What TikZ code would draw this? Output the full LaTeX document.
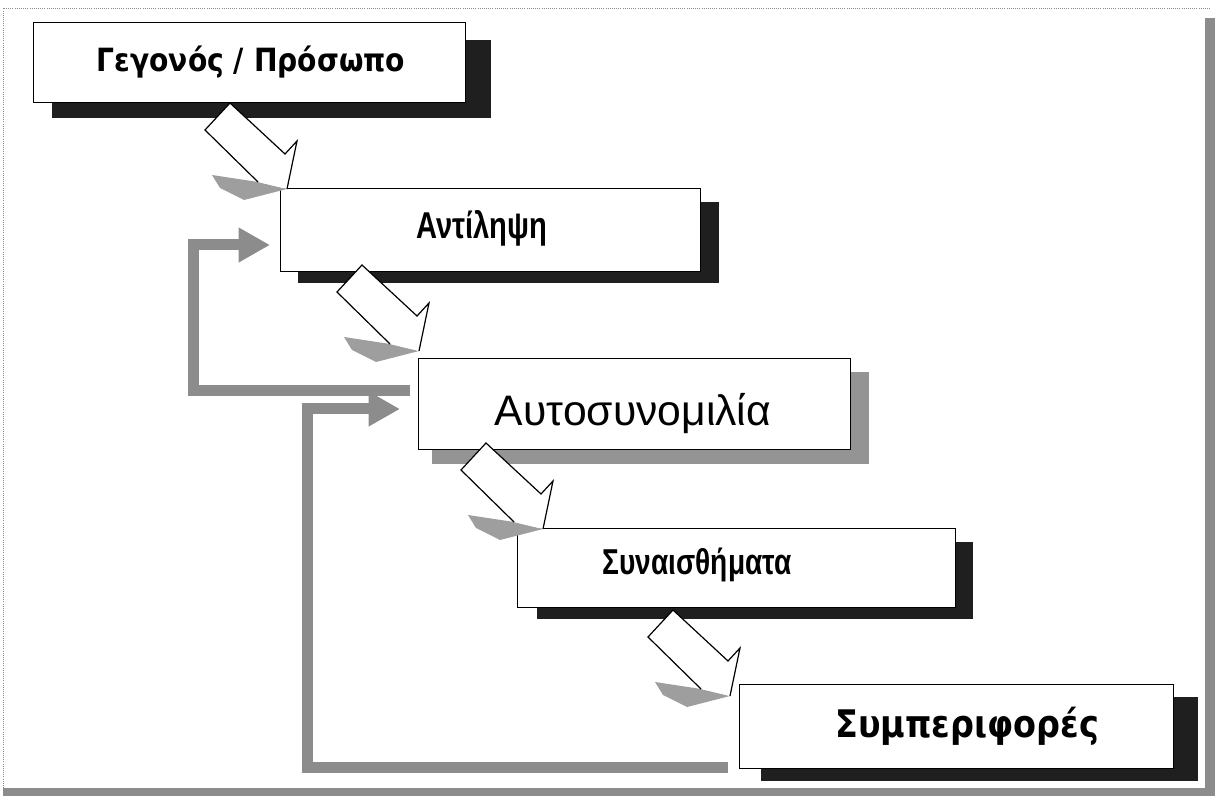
\documentclass[tikz,border=0pt]{standalone}
\usepackage{fontspec}
\setmainfont{Liberation Sans}
\newfontfamily\ffa[FakeStretch=0.78]{Liberation Sans}
\newfontfamily\ffr{Liberation Sans}
\newfontfamily\ffb[FakeStretch=0.88]{DejaVu Sans}
\usetikzlibrary{arrows.meta,backgrounds,calc}
\pgfdeclarelayer{bottom}
\pgfsetlayers{bottom,background,main}
\tikzset{
  stepbox/.style={draw=black, line width=1.1pt, fill=white, inner sep=0pt, anchor=north west},
  darkshadow/.style={fill=black!88},
  lightshadow/.style={fill=black!42},
  fbarrow/.style={draw=black!45, line width=8.25pt, line join=miter,
     -{Triangle[length=23.5pt,width=24.5pt]}},
  lbl/.style={inner sep=0pt, text=black},
  blockarrow/.pic={
    \fill[black!38] (28,79) -- (-18,72) -- (-10,85) -- (14,97) -- (57,86) -- cycle;
    \fill[white] (0,0) -- (55,51) -- (67,38) -- (57,86) -- (28,79) -- (-25,27) -- cycle;
    \draw[black, line width=0.9pt, line join=miter] (28,79) -- (-25,27) -- (0,0) -- (55,51) -- (67,38) -- (57,86);
  }
}
\begin{document}
\begin{tikzpicture}[x=0.75pt,y=-0.75pt]
\useasboundingbox (0,0) rectangle (1218,798);
\begin{pgfonlayer}{bottom}
\fill[white] (0,0) rectangle (1218,798);
\end{pgfonlayer}
% frame
\draw[black!45, densely dotted, line width=0.6pt] (3,790) -- (3,8) -- (1210,8);
\fill[black!45] (1205,18) rectangle (1215,796);
\fill[black!45] (3,788) rectangle (1215,796);

% boxes
\node[stepbox, minimum width=324pt, minimum height=60pt] (b1) at (33,22) {};
\node[stepbox, minimum width=315pt, minimum height=62.25pt] (b2) at (280,188) {};
\node[stepbox, minimum width=324pt, minimum height=68.25pt] (b3) at (418,358) {};
\node[stepbox, minimum width=328.5pt, minimum height=59.25pt] (b4) at (517,528) {};
\node[stepbox, minimum width=325.5pt, minimum height=63pt] (b5) at (739,684) {};

\begin{scope}[on background layer]
\fill[darkshadow] ([shift={(19,18)}]b1.north west) rectangle ([shift={(25,15)}]b1.south east);
\fill[darkshadow] ([shift={(18,14)}]b2.north west) rectangle ([shift={(18,11)}]b2.south east);
\fill[lightshadow] ([shift={(14,14)}]b3.north west) rectangle ([shift={(18,14)}]b3.south east);
\fill[darkshadow] ([shift={(20,14)}]b4.north west) rectangle ([shift={(17,11)}]b4.south east);
\fill[darkshadow] ([shift={(22,13)}]b5.north west) rectangle ([shift={(24,12)}]b5.south east);
\end{scope}

% texts
\node[lbl, font=\ffb\bfseries\fontsize{24}{24}\selectfont] (t1) at (251,62) {Γεγονός / Πρόσωπο};
\node[lbl, font=\ffa\bfseries\fontsize{28}{28}\selectfont] (t2) at (482,228) {Αντίληψη};
\node[lbl, font=\ffr\fontsize{32}{32}\selectfont] (t3) at (633,414) {Αυτοσυνομιλία};
\node[lbl, font=\ffa\bfseries\fontsize{27}{27}\selectfont] (t4) at (697,565) {Συναισθήματα};
\node[lbl, font=\ffb\bfseries\fontsize{28.5}{28.5}\selectfont] (t5) at (967,726) {Συμπεριφορές};

% block arrows between steps
\pic at (230,103) {blockarrow};
\pic at (362,265) {blockarrow};
\pic at (486,443) {blockarrow};
\pic at (673,610) {blockarrow};

% feedback arrows
\coordinate (f1s) at (410,391);
\coordinate (f1a) at (193.5,391);
\coordinate (f1b) at (193.5,245);
\coordinate (f1t) at (270,245);
\draw[fbarrow] (f1s) -- (f1a) -- (f1b) -- (f1t);

\coordinate (f2s) at (728,767);
\coordinate (f2a) at (307.5,767);
\coordinate (f2b) at (307.5,409);
\coordinate (f2t) at (400,409);
\draw[fbarrow] (f2s) -- (f2a) -- (f2b) -- (f2t);
\end{tikzpicture}
\end{document}
